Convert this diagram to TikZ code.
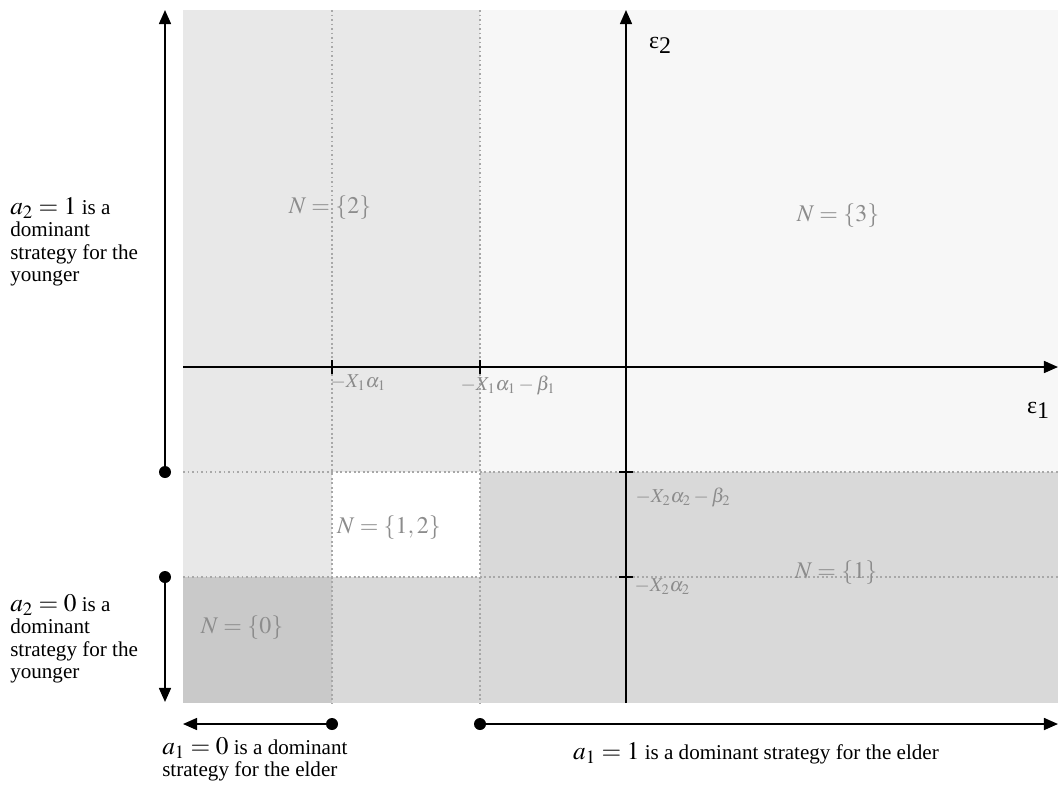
\documentclass[tikz,border=0pt]{standalone}
\usepackage{mathptmx}
\usepackage{fontspec}
\setmainfont{Liberation Serif}
\usetikzlibrary{arrows.meta,positioning}

\definecolor{labelgray}{HTML}{8C8C8C}
\definecolor{gridgray}{HTML}{A8A8A8}

\begin{document}
\begin{tikzpicture}[x=0.025cm, y=-0.025cm,
  axis/.style={-{Triangle[width=8.5pt,length=10pt]}, line width=1.3pt},
  dot/.style={circle, fill, inner sep=0pt, minimum size=0.3cm},
  gridline/.style={gridgray, dotted, line width=1.2pt},
  region/.style={text=labelgray, font=\fontsize{17}{20}\selectfont},
  ticklabel/.style={text=labelgray, font=\fontsize{14}{16}\selectfont, inner sep=1pt},
  note/.style={align=left, inner sep=0pt, font=\fontsize{15}{16}\selectfont}
]
\useasboundingbox (0,0) rectangle (1058,791);

% shaded regions
\fill[black!9] (183,10) rectangle (480,472);
\fill[black!3] (480,10) rectangle (1058,472);
\fill[black!9] (183,472) rectangle (332,577);
\fill[white] (332,472) rectangle (480,577);
\fill[black!15] (480,472) rectangle (1058,577);
\fill[black!21] (183,577) rectangle (332,703);
\fill[black!15] (332,577) rectangle (1058,703);

% boundaries
\draw[gridline] (332,10) -- (332,703);
\draw[gridline] (480,10) -- (480,703);
\draw[gridline] (183,472) -- (1058,472);
\draw[gridline] (183,577) -- (1058,577);

% axes
\coordinate (xstart) at (183,367);
\coordinate (xend) at (1058,367);
\coordinate (ystart) at (626,703);
\coordinate (yend) at (626,10);
\draw[axis] (xstart) -- (xend);
\draw[axis] (ystart) -- (yend);
\node (eps2) at (660,45) {\fontsize{17}{20}\selectfont ε\raisebox{-0.45ex}{2}};
\node (eps1) at (1038,410) {\fontsize{17}{20}\selectfont ε\raisebox{-0.45ex}{1}};

% ticks
\draw[line width=1.2pt] (332,360) -- (332,374);
\draw[line width=1.2pt] (480,360) -- (480,374);
\draw[line width=1.2pt] (619,472) -- (633,472);
\draw[line width=1.2pt] (619,577) -- (633,577);
\node[ticklabel, anchor=west] (t1) at (329,383) {$-X_1\alpha_1$};
\node[ticklabel, anchor=west] (t2) at (459,385) {$-X_1\alpha_1-\beta_1$};
\node[ticklabel, anchor=west] (t3) at (634,497) {$-X_2\alpha_2-\beta_2$};
\node[ticklabel, anchor=west] (t4) at (633,587) {$-X_2\alpha_2$};

% region labels
\node[region] (n2) at (330,208) {$N=\{2\}$};
\node[region] (n3) at (838,216) {$N=\{3\}$};
\node[region] (n12) at (389,528) {$N=\{1,2\}$};
\node[region] (n0) at (242,628) {$N=\{0\}$};
\node[region] (n1) at (836,573) {$N=\{1\}$};

% dominance ranges
\node[dot] (up) at (165,472) {};
\node[dot] (down) at (165,577) {};
\node[dot] (left) at (332,724) {};
\node[dot] (right) at (480,724) {};
\coordinate (uptip) at (165,10);
\coordinate (downtip) at (165,702);
\coordinate (lefttip) at (183,724);
\coordinate (righttip) at (1058,724);
\draw[axis] (up.center) -- (uptip);
\draw[axis] (down.center) -- (downtip);
\draw[axis] (left.center) -- (lefttip);
\draw[axis] (right.center) -- (righttip);

\node[note, anchor=north west] (young1) at (10,197)
  {{\fontsize{18}{18}\selectfont$a_2=1$} is a\\dominant\\strategy for the\\younger};
\node[note, anchor=north west] (young0) at (10,594)
  {{\fontsize{18}{18}\selectfont$a_2=0$} is a\\dominant\\strategy for the\\younger};
\node[note, anchor=north west] (elder0) at (162,737)
  {{\fontsize{18}{18}\selectfont$a_1=0$} is a dominant\\strategy for the elder};
\node[note] (elder1) at (756,753)
  {{\fontsize{18}{18}\selectfont$a_1=1$} is a dominant strategy for the elder};
\end{tikzpicture}
\end{document}
